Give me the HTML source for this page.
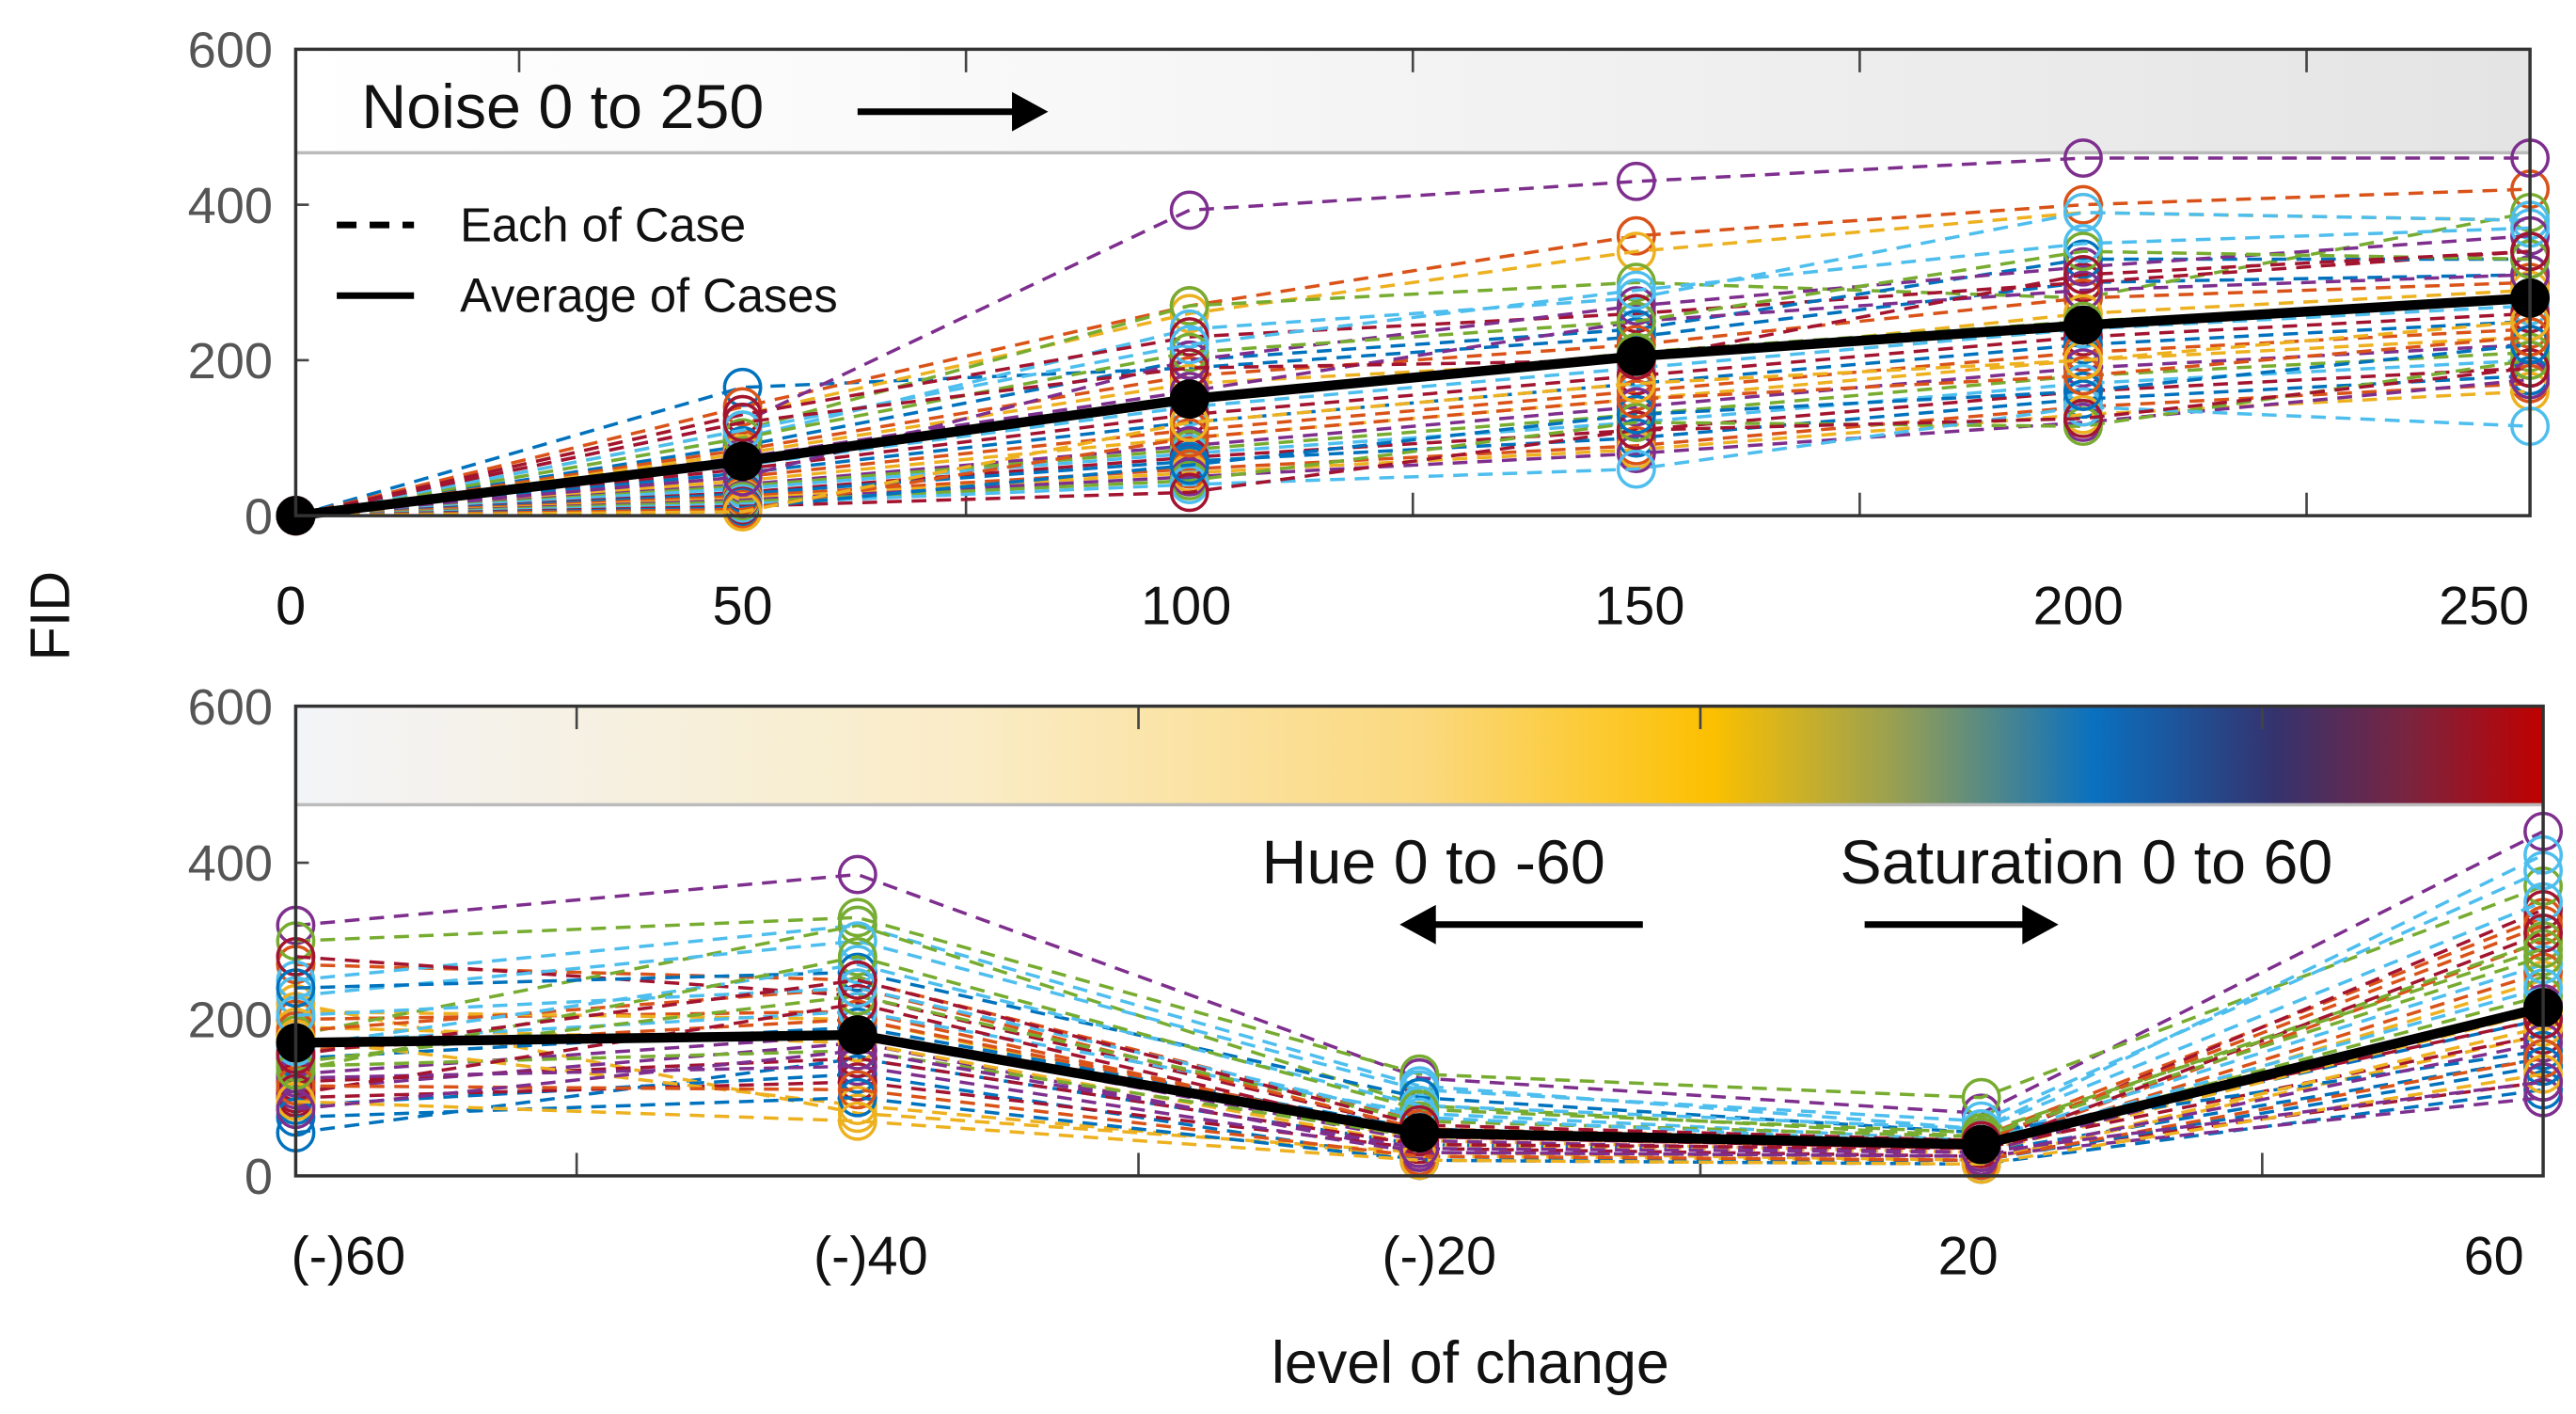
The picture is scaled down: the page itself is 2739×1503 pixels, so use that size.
<!DOCTYPE html>
<html><head><meta charset="utf-8"><style>
html,body{margin:0;padding:0;background:#fff}
svg{display:block;font-family:"Liberation Sans",sans-serif}
</style></head><body>
<svg id="chart" width="2739" height="1503" viewBox="0 0 1568 861" preserveAspectRatio="none" xmlns="http://www.w3.org/2000/svg">
<defs>
<linearGradient id="noiseGrad" x1="0" x2="1" y1="0" y2="0">
<stop offset="0" stop-color="#ffffff"/><stop offset="0.35" stop-color="#f8f8f8"/><stop offset="1" stop-color="#e4e4e4"/>
</linearGradient>
<linearGradient id="colGrad" x1="0" x2="1" y1="0" y2="0">
<stop offset="0" stop-color="#f3f4f8"/><stop offset="0.3" stop-color="#faecc6"/><stop offset="0.5" stop-color="#fbd980"/>
<stop offset="0.63" stop-color="#fcc000"/><stop offset="0.71" stop-color="#9aa050"/><stop offset="0.8" stop-color="#0a70c0"/>
<stop offset="0.88" stop-color="#34336e"/><stop offset="0.94" stop-color="#7a2440"/><stop offset="1" stop-color="#c00000"/>
</linearGradient>
</defs>
<g id="topPanel"></g>
<g id="botPanel"></g>
<text x="42" y="375" font-size="34" text-anchor="middle" transform="rotate(-90 42 375)" fill="#111">FID</text>
<text x="895" y="842" font-size="36" text-anchor="middle" fill="#111">level of change</text>
</svg>
<script>
const colors=['#0072BD','#D95319','#EDB120','#7E2F8E','#77AC30','#4DBEEE','#A2142F'];
const topCats=[0,50,100,150,200,250];
const topTicks=['0','50','100','150','200','250'];
const yTicks=[0,200,400,600];
const topAvg=[0,70,150,205,245,280];
const topCases=[
[0,165,190,230,300,310],[0,140,270,360,400,420],[0,130,260,340,390,380],[0,120,393,430,460,460],
[0,110,270,300,280,390],[0,100,240,280,390,380],[0,130,230,260,300,340],[0,90,200,240,330,330],
[0,85,180,220,280,300],[0,80,170,200,260,290],[0,75,160,250,290,310],[0,70,150,210,250,280],
[0,65,140,190,240,270],[0,60,130,180,230,260],[0,55,120,170,220,250],[0,50,110,160,210,240],
[0,45,100,150,200,230],[0,40,90,140,190,220],[0,38,85,130,180,210],[0,35,80,120,170,200],
[0,30,75,110,160,190],[0,28,70,100,150,180],[0,25,60,90,140,170],[0,22,55,85,130,160],
[0,20,50,80,120,175],[0,18,45,120,115,200],[0,15,40,60,140,115],[0,12,30,110,125,190],
[0,10,65,130,160,220],[0,8,100,150,180,230],[0,5,120,170,200,250],[0,50,200,270,320,360],
[0,100,210,250,340,330],[0,110,220,290,350,370],[0,120,190,200,310,340]];
const botCats=['(-)60','(-)40','(-)20','20','60'];
const botAvg=[170,180,55,40,215];
const botCases=[
[55,150,40,30,150],[270,250,70,50,330],[220,80,30,20,180],[320,385,125,80,440],[300,330,130,100,370],
[250,320,115,60,410],[280,230,60,40,340],[90,130,20,15,110],[200,210,50,35,300],[210,200,45,30,250],
[110,170,30,25,100],[180,320,90,50,300],[230,300,110,70,390],[100,120,35,25,120],[150,190,60,40,200],
[160,200,55,35,260],[190,170,40,30,210],[130,180,45,30,220],[140,160,50,40,230],[170,210,80,45,270],
[120,150,40,35,180],[240,260,100,55,160],[185,240,60,45,320],[175,90,25,20,190],[125,140,30,25,170],
[145,230,70,50,280],[165,270,90,60,350],[105,220,50,35,310],[75,100,20,20,140],[115,110,25,20,150],
[95,70,20,15,130],[85,160,35,30,120],[135,280,85,55,290],[205,240,75,40,240],[155,250,65,45,200]];

const NS='http://www.w3.org/2000/svg';
function mk(p,t,a){const e=document.createElementNS(NS,t);for(const k in a)e.setAttribute(k,a[k]);p.appendChild(e);return e;}

function panel(g,L,R,T,B,xs,ylab,bandFill,bandBottom,cases,avg,xlabs,minorX,nameP,labDx){
  const yS=v=>B-(v/600)*(B-T);
  mk(g,'rect',{x:L,y:T,width:R-L,height:B-T,fill:'#fff'});
  const band=mk(g,'rect',{x:L,y:T,width:R-L,height:bandBottom-T,fill:bandFill});
  
  
  mk(g,'line',{x1:L,x2:R,y1:bandBottom,y2:bandBottom,stroke:'#bbb','stroke-width':2});
  yTicks.forEach(v=>{
    const t=mk(g,'text',{x:L-14,y:yS(v)+11,'font-size':31,'text-anchor':'end',fill:'#555'});
    t.textContent=v;
    
    
    mk(g,'line',{x1:L,x2:L+8,y1:yS(v),y2:yS(v),stroke:'#444','stroke-width':1.5});
  });
  minorX.forEach(x=>{
    mk(g,'line',{x1:x,x2:x,y1:B,y2:B-14,stroke:'#444','stroke-width':1.5});
    mk(g,'line',{x1:x,x2:x,y1:T,y2:T+14,stroke:'#444','stroke-width':1.5});
  });
  cases.forEach((c,i)=>{
    const col=colors[i%colors.length];
    const pl=mk(g,'polyline',{points:c.map((v,j)=>xs[j]+','+yS(v)).join(' '),fill:'none',stroke:col,'stroke-width':2,'stroke-dasharray':'9 6'});
    
    
    c.forEach((v,j)=>{
      const ci=mk(g,'circle',{cx:xs[j],cy:yS(v),r:11,fill:'none',stroke:col,'stroke-width':2});
      
      
    });
  });
  const al=mk(g,'polyline',{points:avg.map((v,j)=>xs[j]+','+yS(v)).join(' '),fill:'none',stroke:'#000','stroke-width':6});
  
  
  avg.forEach((v,j)=>{
    const ci=mk(g,'circle',{cx:xs[j],cy:yS(v),r:12,fill:'#000'});
    
    
  });
  mk(g,'rect',{x:L,y:T,width:R-L,height:B-T,fill:'none',stroke:'#333','stroke-width':2});
  xlabs.forEach((s,j)=>{
    const t=mk(g,'text',{x:xs[j]+labDx[j],y:ylab,'font-size':33,'text-anchor':'middle',fill:'#111'});
    t.textContent=s;
    
    
  });
}
const topG=document.getElementById('topPanel'),botG=document.getElementById('botPanel');
const tL=180,tR=1540,bL=180,bR=1548;
const txs=topCats.map(v=>tL+v/250*(tR-tL));
const tminor=[25,75,125,175,225].map(v=>tL+v/250*(tR-tL));
panel(topG,tL,tR,30,314,txs,380,'url(#noiseGrad)',93,topCases,topAvg,topTicks,tminor,'noise',[-3,0,-2,2,-3,-28]);
const bxs=botCats.map((c,j)=>bL+j*(bR-bL)/(botCats.length-1));
const bminor=[0.5,1.5,2.5,3.5].map(v=>bL+v*(bR-bL)/(botCats.length-1));
panel(botG,bL,bR,430,716,bxs,776,'url(#colGrad)',490,botCases,botAvg,botCats,bminor,'huesat',[32,8,12,-8,-30]);

function label(g,x,y,s,size,name){const t=mk(g,'text',{x:x,y:y,'font-size':size,fill:'#111'});t.textContent=s;
 
 return t;}
function arrow(g,x1,x2,y,name){mk(g,'line',{x1:x1,x2:x2+(x2>x1?-14:14),y1:y,y2:y,stroke:'#000','stroke-width':4});
 const d=x2>x1?1:-1;const p=mk(g,'polygon',{points:`${x2},${y} ${x2-22*d},${y-12} ${x2-22*d},${y+12}`,fill:'#000'});
 
 }
label(topG,220,78,'Noise 0 to 250',38,'noise-annotation');
arrow(topG,522,638,68,'noise-arrow');
mk(topG,'line',{x1:205,x2:252,y1:137,y2:137,stroke:'#000','stroke-width':4,'stroke-dasharray':'12 8'});
label(topG,280,147,'Each of Case',29,'legend-each-case');
mk(topG,'line',{x1:205,x2:252,y1:180,y2:180,stroke:'#000','stroke-width':4});
label(topG,280,190,'Average of Cases',29,'legend-average');
label(botG,768,538,'Hue 0 to -60',38,'hue-annotation');
arrow(botG,1000,852,563,'hue-arrow');
label(botG,1120,538,'Saturation 0 to 60',38,'saturation-annotation');
arrow(botG,1135,1253,563,'saturation-arrow');
</script>
</body></html>
